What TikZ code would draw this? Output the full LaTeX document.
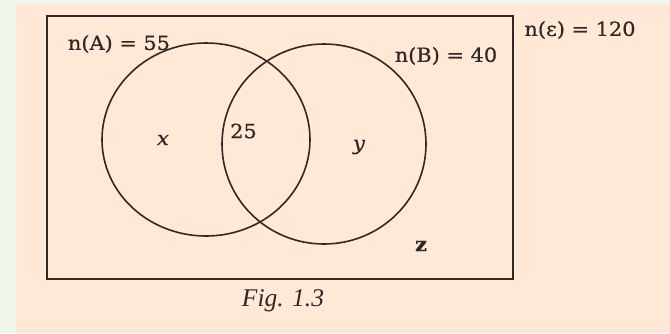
\documentclass[tikz,border=0pt]{standalone}
\usepackage{fontspec}
\setmainfont[FakeStretch=1.07,FakeBold=0.6]{DejaVu Serif}
\newfontfamily\capfont{Liberation Serif}
\usetikzlibrary{positioning}
\definecolor{vennpanel}{HTML}{FFE8D5}
\definecolor{venngreen}{HTML}{F1F6EC}
\definecolor{vennink}{HTML}{2E2826}

\begin{document}
\begin{tikzpicture}[x=1pt,y=-1pt,
  every node/.style={font=\fontsize{19.5}{22}\selectfont,text=vennink,inner sep=0pt},
  setline/.style={draw=vennink,line width=1.6pt},
  caption/.style={font=\capfont\itshape\fontsize{25.5}{28}\selectfont}
]
\fill[venngreen] (0,0) rectangle (670,333);
\fill[vennpanel] (16,4) rectangle (670,333);
\useasboundingbox (0,0) rectangle (670,333);
% universal set and the two sets
\draw[setline,line width=2pt] (46.5,15.5) rectangle (513,279);
\draw[setline] (206,139.5) ellipse [x radius=104pt,y radius=96.5pt];
\draw[setline] (324,144) ellipse [x radius=102pt,y radius=100pt];
% labels
\node (nA) at (119,44) {n(A) = 55};
\node (nB) at (446,56) {n(B) = 40};
\node (nU) at (580,30) {n(ε) = 120};
\node (x) at (163,140) {\itshape x};
\node (both) at (243.5,131) {25};
\node (y) at (359,147) {\itshape y};
\node (z) at (421,246) {\bfseries z};
\node[caption] (fig) at (283,301) {Fig. 1.3};
\end{tikzpicture}
\end{document}
